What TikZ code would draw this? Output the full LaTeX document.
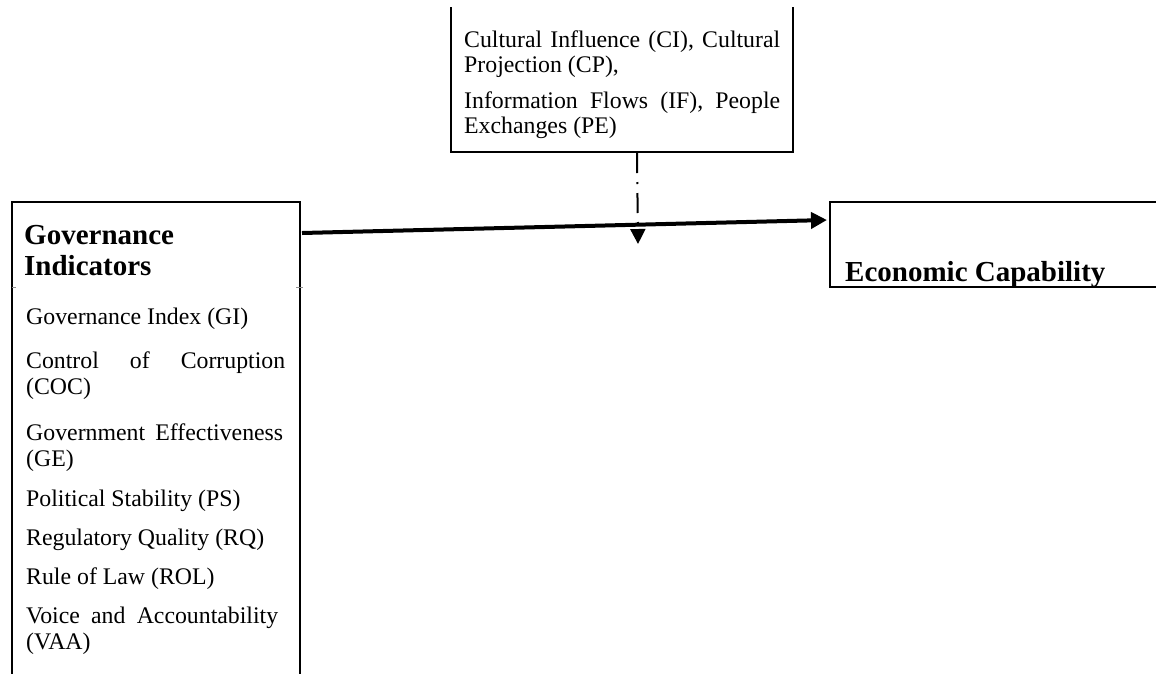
\documentclass[tikz,border=0pt]{standalone}
\usepackage{fontspec}
\setmainfont{Liberation Serif}
\usetikzlibrary{arrows.meta}
\tikzset{
  boxline/.style={line width=2pt, line cap=rect},
  hold/.style={draw=none, inner sep=0pt, minimum width=#1},
  rtxt/.style={anchor=base west, inner sep=0pt, font=\fontsize{23.8}{27}\selectfont},
  btxt/.style={anchor=base west, inner sep=0pt, font=\fontsize{29}{33}\selectfont\bfseries},
  mainarrow/.style={line width=4pt, -{Triangle[length=16pt,width=16pt]}},
  dasharrow/.style={line width=2pt, dash pattern=on 20pt off 9pt on 2pt off 9pt, -{Triangle[length=15pt,width=15pt]}},
  tick/.style={line width=1pt, black!45}
}
\newcommand{\jline}[2]{\makebox[#1][s]{#2}}
\begin{document}
\begin{tikzpicture}[x=1pt,y=-1pt]
\useasboundingbox (0,0) rectangle (1156,673);
% box holders
\node[hold=342pt, minimum height=144pt] (topbox) at (622,80) {};
\node[hold=288pt, minimum height=473pt] (leftbox) at (156,438.5) {};
\node[hold=330pt, minimum height=85pt] (rightbox) at (995,244.5) {};
% borders
\draw[boxline] (topbox.north west) -- (topbox.south west) -- (topbox.south east) -- (topbox.north east);
\draw[boxline] (leftbox.south west) -- (leftbox.north west) -- (leftbox.north east) -- (leftbox.south east);
\draw[boxline] (rightbox.north east) -- (rightbox.north west) -- (rightbox.south west) -- (rightbox.south east);
% small cell ticks on left box
\draw[tick] (12,287) -- (16,287);
\draw[tick] (296,287) -- (303,287);
% top box text
\node[rtxt] (t1) at (464,47) {\jline{316pt}{Cultural Influence (CI), Cultural}};
\node[rtxt] (t2) at (464,72) {Projection (CP),};
\node[rtxt] (t3) at (464,108) {\jline{316pt}{Information Flows (IF), People}};
\node[rtxt] (t4) at (464,133) {Exchanges (PE)};
% left box text
\node[btxt] (g1) at (24,244) {Governance};
\node[btxt] (g2) at (24,275) {Indicators};
\node[rtxt] (l1) at (26,324) {Governance Index (GI)};
\node[rtxt] (l2) at (26,368) {\jline{259pt}{Control of Corruption}};
\node[rtxt] (l3) at (26,394) {(COC)};
\node[rtxt] (l4) at (26,440) {\jline{257pt}{Government Effectiveness}};
\node[rtxt] (l5) at (26,466) {(GE)};
\node[rtxt] (l6) at (26,506) {Political Stability (PS)};
\node[rtxt] (l7) at (26,545) {Regulatory Quality (RQ)};
\node[rtxt] (l8) at (26,584) {Rule of Law (ROL)};
\node[rtxt] (l9) at (26,623) {\jline{252pt}{Voice and Accountability}};
\node[rtxt] (l10) at (26,649) {(VAA)};
% right box text
\node[btxt] (ec) at (845,281) {Economic Capability};
% connectors
\coordinate (aStart) at (302,233);
\coordinate (aEnd) at (827,220);
\draw[mainarrow] (aStart) -- (aEnd);
\coordinate (dStart) at (637,153);
\coordinate (dEnd) at (638,244);
\draw[dasharrow] (dStart) -- (dEnd);
\end{tikzpicture}
\end{document}
